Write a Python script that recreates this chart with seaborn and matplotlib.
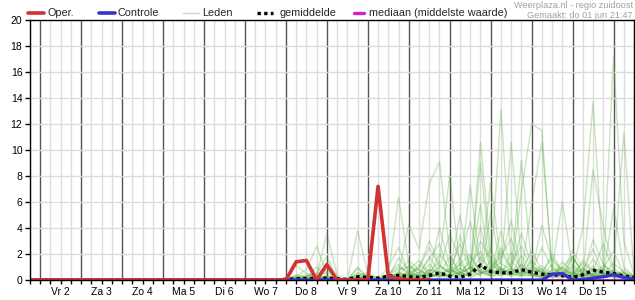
import numpy as np
import pandas as pd
import matplotlib
matplotlib.use("Agg")
import matplotlib.pyplot as plt
import seaborn as sns
from matplotlib.ticker import MultipleLocator
from matplotlib.lines import Line2D
from matplotlib.legend import Legend

# ---------------- data ----------------
# time axis: day of June, 6-hourly, starting 1 June 18:00
start_day = 1.75
step_days = 0.25
n_steps = 60
days = start_day + step_days * np.arange(n_steps)

day_labels = ["Vr 2", "Za 3", "Zo 4", "Ma 5", "Di 6", "Wo 7", "Do 8",
              "Vr 9", "Za 10", "Zo 11", "Ma 12", "Di 13", "Wo 14", "Do 15"]
label_days = [2, 3, 4, 5, 6, 7, 8, 9, 10, 11, 12, 13, 14, 15]

# operational run (to 11 June 12:00)
oper = [0, 0, 0, 0, 0, 0, 0, 0, 0, 0,
        0, 0, 0, 0, 0, 0, 0, 0, 0, 0,
        0, 0, 0, 0, 0, 0,
        1.4, 1.5, 0, 1.2, 0, 0, 0, 0, 7.2, 0.3, 0.1, 0, 0, 0]

controle = [0, 0, 0, 0, 0, 0, 0, 0, 0, 0,
            0, 0, 0, 0, 0, 0, 0, 0, 0, 0,
            0, 0, 0, 0, 0, 0, 0, 0, 0, 0,
            0, 0, 0, 0, 0, 0, 0, 0, 0, 0,
            0, 0, 0, 0, 0, 0, 0, 0, 0, 0,
            0, 0.45, 0.5, 0, 0.05, 0.15, 0.25, 0.4, 0.2, 0.05]

gemiddelde = [0, 0, 0, 0, 0, 0, 0, 0, 0, 0,
              0, 0, 0, 0, 0, 0, 0, 0, 0, 0,
              0, 0, 0, 0,
              0.0, 0.05, 0.1, 0.12, 0.1, 0.15, 0.1, 0.05, 0.25, 0.2,
              0.15, 0.3, 0.35, 0.25, 0.2, 0.35, 0.55, 0.3, 0.2, 0.45,
              1.15, 0.65, 0.55, 0.55, 0.8, 0.6, 0.45, 0.4, 0.35, 0.2,
              0.4, 0.75, 0.6, 0.5, 0.3, 0.2]

mediaan = [0, 0, 0, 0, 0, 0, 0, 0, 0, 0,
           0, 0, 0, 0, 0, 0, 0, 0, 0, 0,
           0, 0, 0, 0, 0, 0, 0, 0, 0, 0,
           0, 0, 0, 0, 0, 0, 0, 0, 0, 0,
           0, 0, 0, 0, 0, 0, 0, 0, 0, 0,
           0, 0, 0, 0, 0, 0, 0, 0, 0, 0]

# ensemble members, from 7 June 12:00 onward (37 steps)
member_first_index = 23
m01 = [0,0,0,0.3,0.8,2.6,0.4,0,0,0.2, 0,0,0.3,6.4,1.2,0.4,0.2,0.5,1.8,0.6, 0.3,10.6,2.1,0.5,0.3,1.2,0.4,0.2,0.8,6.0, 0.9,0.3,0.5,1.1,0.4,0.2,0.1]
m02 = [0,0,0.2,1.1,0.5,0.3,3.6,0.4,0,0.9, 0.1,0,0,0.5,4.3,2.4,7.4,9.1,2.0,0.4, 1.0,0.6,0.3,2.2,0.8,0.4,1.5,0.6,0.2,0.1, 1.8,0.5,0.3,0.8,0.2,0.1,0]
m03 = [0,0,0,0.4,0.2,1.0,0.3,0,0,3.8, 0.5,0,0.2,1.7,0.8,1.5,0.6,1.4,8.1,0.9, 0.5,1.8,0.7,13.1,1.5,0.6,0.4,0.3,1.2,0.5, 0.2,0.9,0.4,0.3,17.2,3.0,0.4]
m04 = [0,0,0,0,0.3,0.5,1.8,0.2,0,1.0, 0.2,0,0.5,1.2,0.4,0.9,2.5,1.0,0.6,5.0, 0.8,9.0,1.2,0.6,10.6,1.5,0.4,0.2,0.5,0.3, 0.8,3.9,13.7,1.2,0.4,0.6,0.2]
m05 = [0,0,0,0.2,0.1,0.4,0.2,0.1,0,0.3, 0.6,0.1,1.0,2.5,0.5,0.3,1.2,0.4,0.3,0.6, 7.3,1.1,0.5,0.8,0.4,6.8,12.0,11.5,0.6,0.3, 1.8,0.4,0.3,0.2,0.8,11.3,0.5]
m06 = [0,0,0,0.1,0.2,0.5,0.8,0.1,0,0.2, 0.1,0,0.1,0.6,1.5,0.8,0.3,2.0,0.9,0.4, 0.6,0.9,7.5,1.3,0.7,0.5,5.9,10.6,1.0,0.4, 0.6,0.3,8.5,4.1,0.9,0.3,0.1]
m07 = [0,0,0,0,0,0.1,0.3,0,0,0.5, 0.3,0.1,0.4,0.8,1.0,0.5,1.6,2.8,0.4,1.2, 2.0,0.5,0.9,1.8,3.2,0.6,0.5,4.2,1.5,0.8, 0.4,0.2,1.1,0.4,0.6,0.3,0.2]
m08 = [0,0,0,0.2,0.4,0.3,0.2,0,0,0.1, 0,0,0.3,0.2,0.6,0.3,0.4,0.9,3.5,1.6, 0.3,4.1,0.6,2.5,0.9,9.2,1.2,0.4,0.3,1.0, 1.8,0.6,2.4,0.5,0.3,0.8,0.3]
m09 = [0,0,0,0,0.1,0.2,0.1,0,0,0.2, 0.4,0.2,0.1,0.3,0.2,1.2,0.5,0.3,0.8,0.5, 1.4,2.2,0.4,0.6,1.3,2.6,0.8,0.3,0.6,0.2, 0.3,1.5,0.7,2.8,0.6,0.2,0.1]
m10 = [0,0,0,0.3,0.2,0.1,0.2,0,0,0.4, 0.1,0,0.2,0.4,0.5,0.2,0.8,0.6,0.3,0.9, 0.4,3.0,1.6,0.8,0.5,0.3,1.0,0.6,0.4,0.9, 0.5,0.2,0.4,0.3,5.5,1.0,0.3]
m11 = [0,0,0,0,0,0,0,0,0,0.1, 0,0,0.1,0.3,0.2,0.4,0.3,1.1,0.6,2.8, 0.7,0.4,1.5,0.5,0.4,1.9,0.6,0.9,0.3,0.4, 1.2,0.5,0.2,0.6,0.4,0.2,0.1]
m12 = [0,0,0,0.1,0.3,0.2,0,0,0,0.2, 0.2,0,0,0.1,0.8,0.3,0.2,0.5,0.9,0.3, 1.8,0.6,0.3,0.4,2.1,0.8,0.3,0.5,0.2,1.4, 0.6,0.3,0.9,0.4,0.2,0.5,0.2]
m13 = [0,0,0,0,0.1,0.1,0.2,0,0,0, 0,0,0.2,0.5,0.3,0.6,0.4,0.2,0.5,1.3, 0.4,0.8,0.5,1.0,0.3,0.6,2.3,0.7,0.2,0.3, 0.5,0.8,0.3,0.2,0.4,0.6,0.3]
m14 = [0,0,0,0,0,0,0,0,0,0.3, 0.1,0,0,0.2,0.4,0.2,0.6,0.3,0.4,0.2, 0.6,1.2,0.3,0.5,0.9,0.4,0.6,1.1,0.5,0.2, 0.3,0.4,1.6,0.5,0.3,0.2,0.1]
m15 = [0,0,0,0.1,0,0.2,0.1,0,0,0.1, 0,0,0.1,0.2,0.1,0.3,0.2,0.4,0.3,0.6, 0.2,0.5,0.8,0.3,0.6,0.4,0.3,0.2,0.8,0.5, 0.3,0.6,0.4,0.9,0.3,0.2,0.1]
m16 = [0,0,0,0,0,0,0,0,0,0.2, 0,0,0.4,1.0,0.6,0.9,3.0,1.2,0.5,1.6, 4.5,1.0,2.4,0.6,0.8,3.6,1.1,0.5,2.0,0.7, 0.4,1.3,0.6,0.9,2.2,0.5,0.2]
m17 = [0,0,0,0.2,0.1,0.3,0.6,0.1,0,0.6, 0.2,0.1,0.3,0.4,1.1,0.7,0.5,4.0,1.1,0.6, 0.9,5.8,0.7,1.4,4.6,0.8,0.6,2.5,0.9,0.4, 1.0,0.5,3.1,1.2,0.6,0.4,0.2]
m18 = [0,0,0,0,0,0,0,0,0,0.1, 0.1,0,0.2,0.3,0.5,0.4,1.8,0.6,0.3,3.4, 1.0,0.7,0.4,3.8,0.9,0.5,0.8,0.6,1.7,0.5, 2.3,0.9,0.4,0.3,0.7,0.3,0.1]
m19 = [0,0,0,0,0,0.1,0.2,0,0,0.1, 0,0,0.2,0.6,0.3,0.2,0.8,0.5,0.7,0.4, 1.0,0.3,5.2,0.8,0.6,1.2,0.5,0.3,0.6,1.0, 0.4,0.2,0.5,0.4,1.3,0.6,0.2]
m20 = [0,0,0,0,0,0,0,0,0,0, 0,0,0.1,0.2,0.3,0.1,0.5,0.3,0.2,0.5, 0.3,0.6,0.4,0.9,0.5,0.3,0.4,0.8,0.3,0.6, 0.2,0.4,0.7,0.3,0.5,0.2,0.1]
leden = [m01, m02, m03, m04, m05, m06, m07, m08, m09, m10,
         m11, m12, m13, m14, m15, m16, m17, m18, m19, m20]

legend_labels = ["Oper.", "Controle", "Leden", "gemiddelde", "mediaan (middelste waarde)"]

# ---------------- tables ----------------
member_days = days[member_first_index:]
rows = []
for i, m in enumerate(leden):
    for d, v in zip(member_days, m):
        rows.append({"dag": d, "neerslag": v, "lid": i})
df_leden = pd.DataFrame(rows)
df_oper = pd.DataFrame({"dag": days[:len(oper)], "neerslag": oper})
df_main = pd.DataFrame({"dag": days, "controle": controle,
                        "gemiddelde": gemiddelde, "mediaan": mediaan})

# ---------------- style ----------------
sns.set_theme(style="white")
plt.rcParams["font.family"] = ["Liberation Sans", "DejaVu Sans"]

W, H = 635, 300
fig = plt.figure(figsize=(W / 100, H / 100), dpi=100)
ax = fig.add_axes([30 / W, 20 / H, 604 / W, 260 / H])

RED = "#d23232"
BLUE = "#3535cc"
GREEN = "#4fa832"
MAGENTA = "#d020d0"

sns.lineplot(data=df_leden, x="dag", y="neerslag", units="lid", estimator=None,
             color=GREEN, alpha=0.30, lw=1.0, ax=ax, legend=False)
sns.lineplot(data=df_main, x="dag", y="mediaan", color=MAGENTA, lw=2.0, ax=ax)
sns.lineplot(data=df_main, x="dag", y="gemiddelde", color="black", lw=2.4,
             linestyle=(0, (1, 1)), ax=ax)
sns.lineplot(data=df_main, x="dag", y="controle", color=BLUE, lw=2.4, ax=ax)
sns.lineplot(data=df_oper, x="dag", y="neerslag", color=RED, lw=2.6, ax=ax)
for ln in ax.lines:
    ln.set_solid_capstyle("butt")
    ln.set_dash_capstyle("butt")

ax.set_xlim(days[0], days[-1])
ax.set_ylim(0, 20)
ax.set_xlabel("")
ax.set_ylabel("")

ax.xaxis.set_major_locator(MultipleLocator(1))
ax.xaxis.set_minor_locator(MultipleLocator(0.25))
ax.set_xticklabels([])
ax.set_yticks(np.arange(0, 21, 2))
ax.set_yticklabels([str(v) for v in range(0, 21, 2)], fontsize=7.5)

ax.set_axisbelow(True)
ax.grid(which="minor", axis="x", color="#dcdcdc", lw=1.0)
ax.grid(which="major", axis="x", color="#555555", lw=1.0)
ax.grid(which="major", axis="y", color="#dcdcdc", lw=1.0)

ax.tick_params(axis="x", which="both", bottom=True, direction="out",
               length=3, width=1, color="black", pad=2)
ax.tick_params(axis="y", which="major", left=True, direction="out",
               length=3.5, width=1, color="black", pad=2, labelcolor="black")
for s in ax.spines.values():
    s.set_visible(True)
    s.set_color("black")
    s.set_linewidth(1.0)

for d, lab in zip(label_days, day_labels):
    ax.text(d + 0.5, -0.046, lab, transform=ax.get_xaxis_transform(),
            ha="center", va="center", fontsize=7.5, color="black")

# legend: one entry per position, as in the reference header
handles = [
    Line2D([], [], color=RED, lw=2.6),
    Line2D([], [], color=BLUE, lw=2.6),
    Line2D([], [], color="#c3ddb8", lw=1.0),
    Line2D([], [], color="black", lw=2.4, linestyle=(0, (1, 1))),
    Line2D([], [], color=MAGENTA, lw=2.4),
]
entry_x = [28, 99, 183, 257, 354]
entry_hlen = [1.45, 1.45, 1.5, 1.45, 0.95]
entry_pad = [0.35, 0.3, 0.3, 0.65, 0.45]
for h, lab, x0, hl, pd_ in zip(handles, legend_labels, entry_x, entry_hlen, entry_pad):
    leg = Legend(fig, [h], [lab], loc="center left",
                 bbox_to_anchor=(x0 / W, 1 - 13.5 / H), frameon=False,
                 fontsize=7.8, handlelength=hl, handletextpad=pd_,
                 borderpad=0, borderaxespad=0)
    fig.add_artist(leg)

fig.text(633 / W, 1 - 5 / H, "Weerplaza.nl - regio zuidoost", ha="right",
         va="center", fontsize=6.6, color="#a0a0a0")
fig.text(633 / W, 1 - 15 / H, "Gemaakt: do 01 jun 21:47", ha="right",
         va="center", fontsize=6.6, color="#a0a0a0")

fig.savefig("out.png", dpi=100)
